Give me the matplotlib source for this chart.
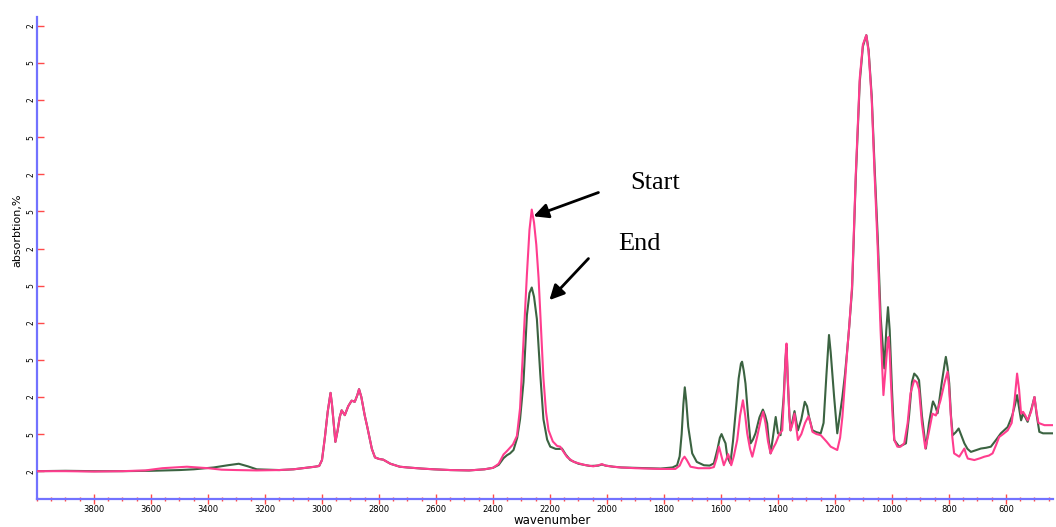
import matplotlib
matplotlib.use("Agg")
import matplotlib.pyplot as plt

# ---- data (wavenumber, absorption in tick units) ----
pink_wn = [4000, 3900, 3800, 3700, 3620, 3560, 3474, 3400, 3352, 3300, 3229, 3150, 3100, 3058, 3025, 3010,
           3000, 2990, 2980, 2970, 2965, 2958, 2953, 2945, 2938, 2931, 2920, 2908, 2896, 2885, 2876, 2870, 2862,
           2850, 2841, 2825, 2814, 2800, 2785, 2760, 2727, 2700, 2650, 2607, 2550, 2484, 2430, 2400,
           2380, 2363, 2350, 2330, 2316, 2305, 2293, 2281, 2272, 2264, 2256, 2248, 2240, 2232, 2223, 2214, 2205,
           2190, 2175, 2164, 2155, 2140, 2117, 2080, 2048, 2030, 2018, 2005, 1978, 1950, 1900, 1850, 1812, 1760,
           1745, 1735, 1728, 1720, 1707, 1680, 1640, 1625, 1615, 1607, 1598, 1590, 1580, 1575, 1570, 1564, 1555,
           1543, 1533, 1523, 1515, 1508, 1498, 1490, 1480, 1473, 1460, 1452, 1444, 1435, 1426, 1415, 1408, 1395,
           1385, 1378, 1372, 1370, 1366, 1360, 1356, 1348, 1342, 1336, 1330, 1318, 1305, 1293, 1286, 1279, 1265,
           1250, 1230, 1215, 1200, 1192, 1182, 1174, 1165, 1156, 1150, 1140, 1127, 1113, 1102, 1090, 1082, 1071,
           1061, 1050, 1040, 1030, 1022, 1016, 1012, 1008, 1004, 998, 992, 981, 970, 957, 945, 935, 922, 913, 905,
           895, 883, 872, 858, 846, 830, 815, 805, 800, 794, 788, 782, 764, 755, 746, 740, 734, 711, 690, 676, 660,
           647, 635, 624, 610, 594, 580, 570, 561, 554, 547, 540, 532, 524, 512, 500, 493, 486, 465, 440, 426]
pink_ab = [0.0, 0.0, -0.01, 0.0, 0.02, 0.08, 0.12, 0.08, 0.04, 0.03, 0.02, 0.03, 0.05, 0.09, 0.12, 0.14,
           0.3, 0.9, 1.6, 2.11, 1.8, 1.2, 0.79, 1.1, 1.45, 1.64, 1.51, 1.75, 1.9, 1.87, 2.05, 2.21, 2.0,
           1.5, 1.19, 0.6, 0.37, 0.33, 0.31, 0.2, 0.12, 0.1, 0.07, 0.05, 0.03, 0.02, 0.05, 0.09,
           0.2, 0.45, 0.55, 0.72, 0.95, 1.7, 3.5, 5.3, 6.5, 7.05, 6.7, 6.1, 5.2, 3.9, 2.5, 1.6, 1.1,
           0.8, 0.68, 0.66, 0.55, 0.38, 0.25, 0.17, 0.13, 0.16, 0.19, 0.15, 0.12, 0.1, 0.08, 0.07, 0.06, 0.06,
           0.15, 0.32, 0.39, 0.3, 0.12, 0.08, 0.08, 0.11, 0.35, 0.66, 0.4, 0.16, 0.35, 0.46, 0.35, 0.16, 0.4,
           0.84, 1.5, 1.91, 1.5, 1.02, 0.6, 0.39, 0.7, 0.93, 1.4, 1.6, 1.3, 0.8, 0.48, 0.65, 0.75, 1.0,
           1.1, 2.2, 3.3, 3.44, 2.6, 1.5, 1.1, 1.3, 1.55, 1.2, 0.84, 1.0, 1.3, 1.48, 1.3, 1.06, 1.0,
           0.97, 0.8, 0.66, 0.6, 0.57, 0.9, 1.46, 2.4, 3.35, 3.9, 5.0, 8.0, 10.6, 11.5, 11.75, 11.3, 10.0,
           8.0, 6.0, 3.8, 2.05, 2.8, 3.4, 3.62, 3.2, 2.45, 1.5, 0.84, 0.66, 0.66, 0.75, 1.3, 2.1, 2.45, 2.4, 2.2,
           1.3, 0.61, 1.0, 1.55, 1.5, 1.9, 2.4, 2.68, 2.3, 1.55, 0.9, 0.48, 0.39, 0.5, 0.61, 0.45, 0.34, 0.3, 0.35, 0.39, 0.42,
           0.48, 0.7, 0.92, 1.0, 1.1, 1.3, 1.9, 2.63, 2.2, 1.55, 1.6, 1.5, 1.37, 1.6, 2.0, 1.6, 1.3, 1.24, 1.24, 1.24]

green_wn = [4000, 3900, 3800, 3700, 3600, 3500, 3450, 3380, 3330, 3292, 3260, 3229, 3150, 3100, 3058, 3025, 3010,
            3000, 2990, 2980, 2970, 2965, 2958, 2953, 2945, 2938, 2931, 2920, 2908, 2896, 2885, 2876, 2870, 2862,
            2850, 2841, 2825, 2814, 2800, 2785, 2760, 2727, 2700, 2650, 2607, 2550, 2484, 2430, 2400,
            2380, 2363, 2351, 2340, 2328, 2315, 2305, 2293, 2281, 2272, 2264, 2256, 2246, 2234, 2223, 2210, 2199,
            2180, 2165, 2158, 2145, 2129, 2100, 2060, 2030, 2018, 2005, 1978, 1950, 1900, 1850, 1812, 1770,
            1754, 1745, 1738, 1732, 1727, 1722, 1715, 1701, 1685, 1660, 1640, 1625, 1612, 1604, 1598, 1590, 1584,
            1578, 1567, 1558, 1549, 1538, 1530, 1526, 1520, 1514, 1505, 1496, 1488, 1479, 1465, 1453, 1445, 1438,
            1432, 1426, 1418, 1408, 1400, 1391, 1380, 1374, 1370, 1366, 1360, 1356, 1348, 1342, 1336, 1330, 1318,
            1306, 1298, 1291, 1279, 1265, 1250, 1240, 1230, 1221, 1215, 1203, 1192, 1183, 1174, 1165, 1156, 1150,
            1140, 1127, 1113, 1102, 1090, 1082, 1071, 1061, 1050, 1040, 1027, 1020, 1014, 1008, 1000, 992, 975,
            951, 940, 930, 922, 912, 905, 895, 881, 870, 858, 856, 848, 840, 825, 815, 811, 805, 799, 793, 787,
            776, 766, 756, 746, 735, 723, 700, 688, 670, 653, 635, 618, 594, 578, 568, 561, 554, 547, 540, 532,
            524, 510, 500, 492, 483, 470, 450, 426]
green_ab = [0.0, 0.01, 0.0, 0.0, 0.01, 0.03, 0.05, 0.1, 0.16, 0.2, 0.13, 0.05, 0.03, 0.05, 0.09, 0.12, 0.14,
            0.3, 0.9, 1.6, 2.11, 1.8, 1.2, 0.79, 1.1, 1.45, 1.64, 1.51, 1.75, 1.9, 1.87, 2.05, 2.21, 2.0,
            1.5, 1.19, 0.6, 0.37, 0.33, 0.31, 0.2, 0.12, 0.1, 0.07, 0.05, 0.03, 0.02, 0.05, 0.09,
            0.17, 0.35, 0.43, 0.48, 0.57, 0.9, 1.4, 2.4, 4.2, 4.8, 4.95, 4.7, 4.1, 2.6, 1.4, 0.85, 0.66,
            0.6, 0.6, 0.61, 0.45, 0.3, 0.2, 0.14, 0.15, 0.18, 0.15, 0.12, 0.1, 0.09, 0.08, 0.07, 0.1,
            0.16, 0.4, 1.0, 1.8, 2.26, 1.9, 1.2, 0.48, 0.25, 0.16, 0.15, 0.21, 0.6, 0.9, 1.0, 0.85, 0.75,
            0.39, 0.21, 0.8, 1.55, 2.5, 2.9, 2.95, 2.7, 2.36, 1.5, 0.75, 0.85, 1.02, 1.45, 1.66, 1.5, 1.29,
            0.8, 0.48, 0.9, 1.46, 1.02, 0.97, 2.0, 3.0, 3.35, 2.5, 1.5, 1.1, 1.4, 1.62, 1.35, 1.1, 1.4,
            1.87, 1.75, 1.46, 1.1, 1.05, 1.02, 1.3, 2.6, 3.67, 3.2, 2.0, 1.02, 1.5, 2.0, 2.6, 3.35, 3.9,
            4.9, 7.9, 10.5, 11.45, 11.75, 11.35, 10.1, 8.2, 6.3, 4.2, 2.77, 3.8, 4.42, 3.8, 2.2, 0.84, 0.66,
            0.75, 1.5, 2.4, 2.63, 2.55, 2.45, 1.5, 0.61, 1.3, 1.82, 1.88, 1.75, 1.56, 2.4, 2.9, 3.08, 2.8, 2.36, 1.5, 0.97,
            1.05, 1.15, 0.95, 0.75, 0.6, 0.52, 0.58, 0.61, 0.63, 0.66, 0.84, 1.02, 1.19, 1.5, 1.8, 2.05, 1.7, 1.37, 1.55, 1.45,
            1.33, 1.7, 2.0, 1.5, 1.06, 1.02, 1.02, 1.02]

x_ticks = [3800, 3600, 3400, 3200, 3000, 2800, 2600, 2400, 2200, 2000, 1800, 1600, 1400, 1200, 1000, 800, 600]
x_tick_labels = [str(t) for t in x_ticks]
y_ticks = list(range(13))
y_tick_labels = ["2" if i % 2 == 0 else "5" for i in y_ticks]

GREEN = "#3b6341"
PINK = "#ff3d8e"
AXBLUE = "#7272ff"
TICKRED = "#ff4a4a"

fig = plt.figure(figsize=(10.56, 5.27), dpi=100)
ax = fig.add_axes([37 / 1056, 28 / 527, 1016 / 1056, 482 / 527])

ax.plot(green_wn, green_ab, color=GREEN, lw=1.5, zorder=3)
ax.plot(pink_wn, pink_ab, color=PINK, lw=1.5, zorder=4)

ax.set_xlim(4000, 435)
ax.set_ylim(-0.75, 12.24)

for s in ["top", "right"]:
    ax.spines[s].set_visible(False)
for s in ["left", "bottom"]:
    ax.spines[s].set_color(AXBLUE)
    ax.spines[s].set_linewidth(1.6)

ax.set_xticks(x_ticks)
ax.set_xticklabels(x_tick_labels, fontsize=6)
ax.set_xticks(list(range(4000, 430, -50)), minor=True)
ax.tick_params(axis="x", which="major", direction="inout", length=7, width=1, color=TICKRED, pad=1)
ax.tick_params(axis="x", which="minor", direction="inout", length=3.5, width=1, color=TICKRED)

ax.set_yticks(y_ticks)
ax.set_yticklabels(y_tick_labels, fontsize=5.5, rotation=90, va="center")
ax.tick_params(axis="y", which="major", direction="in", length=5, width=1, color=TICKRED, pad=1)

fig.text(17 / 1056, 1 - 230 / 527, "absorbtion,%", rotation=90, ha="center", va="center", fontsize=8)
fig.text(552 / 1056, 1 - 521 / 527, "wavenumber", ha="center", va="center", fontsize=8.5)

arrow = dict(arrowstyle="-|>", mutation_scale=22, lw=2, color="black", shrinkA=0, shrinkB=0)
ax.annotate("", xy=(2258, 6.87), xytext=(2030, 7.51), arrowprops=arrow)
ax.annotate("", xy=(2202, 4.61), xytext=(2065, 5.73), arrowprops=arrow)
ax.text(1918, 7.76, "Start", fontsize=19, family="Liberation Serif", ha="left", va="center")
ax.text(1960, 6.12, "End", fontsize=19, family="Liberation Serif", ha="left", va="center")

fig.savefig("out.png", dpi=100)
